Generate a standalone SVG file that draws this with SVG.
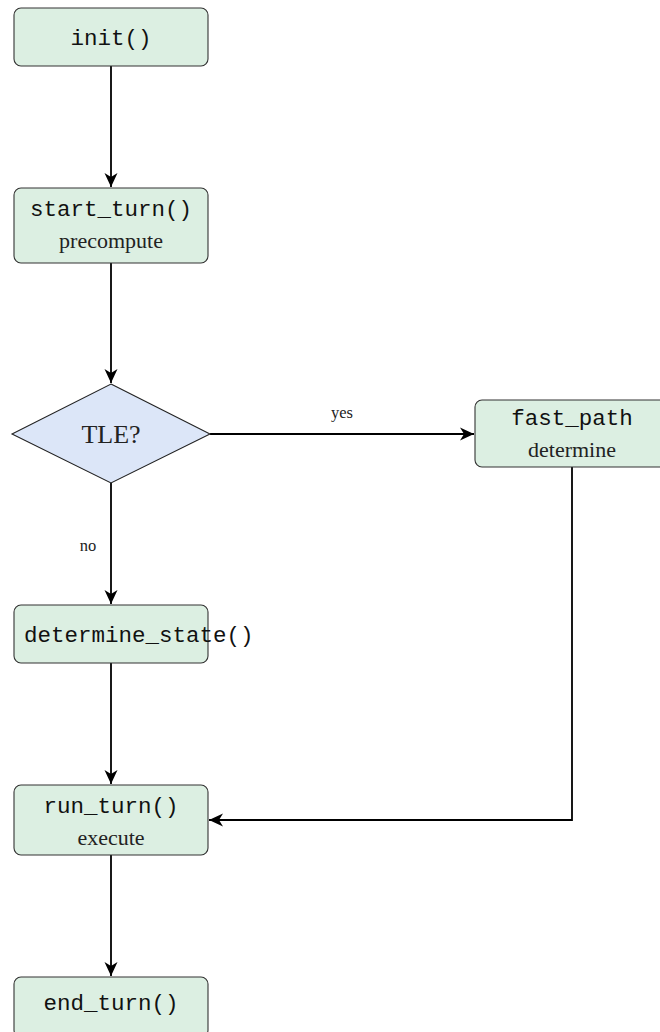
<svg xmlns="http://www.w3.org/2000/svg" width="660" height="1032" viewBox="0 0 660 1032">
<style>
.box{fill:#dcefe2;stroke:#333;stroke-width:1.1}
.dia{fill:#dce6f8;stroke:#222;stroke-width:1.1}
.mono{font-family:"Liberation Mono","DejaVu Sans Mono",monospace;font-size:22.5px;fill:#111;text-anchor:middle}
.ser{font-family:"Liberation Serif","DejaVu Serif",serif;font-size:22px;fill:#222;text-anchor:middle}
.lbl{font-family:"Liberation Serif","DejaVu Serif",serif;font-size:16.5px;fill:#222;text-anchor:middle}
.edge{fill:none;stroke:#000;stroke-width:1.8}
</style>
<defs>
<marker id="ah" markerUnits="userSpaceOnUse" markerWidth="16" markerHeight="14" refX="14" refY="7" orient="auto">
<path d="M0,0.5 L14,7 L0,13.5 L4,7 z" fill="#000"/>
</marker>
</defs>
<g id="connectors">
<line class="edge" x1="111" y1="66" x2="111" y2="187" marker-end="url(#ah)"/>
<line class="edge" x1="111" y1="263" x2="111" y2="383" marker-end="url(#ah)"/>
<line class="edge" x1="210" y1="434" x2="474" y2="434" marker-end="url(#ah)"/>
<text class="lbl" x="342" y="418">yes</text>
<line class="edge" x1="111" y1="483" x2="111" y2="604" marker-end="url(#ah)"/>
<text class="lbl" x="88" y="551">no</text>
<line class="edge" x1="111" y1="663" x2="111" y2="784" marker-end="url(#ah)"/>
<polyline class="edge" points="572,467 572,820 209,820" marker-end="url(#ah)"/>
<line class="edge" x1="111" y1="855" x2="111" y2="976" marker-end="url(#ah)"/>
</g>
<g id="init">
<rect class="box" x="14" y="8" width="194" height="58" rx="7"/>
<text class="mono" x="111" y="45">init()</text>
</g>
<g id="start_turn">
<rect class="box" x="14" y="188" width="194" height="75" rx="7"/>
<text class="mono" x="111" y="216">start_turn()</text>
<text class="ser" x="111" y="248">precompute</text>
</g>
<g id="tle">
<polygon class="dia" points="111,384 210,434 111,483 12,434"/>
<text class="ser" x="111" y="443" style="font-size:26px">TLE?</text>
</g>
<g id="fast_path">
<rect class="box" x="475" y="400" width="194" height="67" rx="7"/>
<text class="mono" x="572" y="425">fast_path</text>
<text class="ser" x="572" y="457">determine</text>
</g>
<g id="determine_state">
<rect class="box" x="14" y="605" width="194" height="58" rx="7"/>
<text class="mono" x="24" y="642" style="text-anchor:start">determine_state()</text>
</g>
<g id="run_turn">
<rect class="box" x="14" y="785" width="194" height="70" rx="7"/>
<text class="mono" x="111" y="813">run_turn()</text>
<text class="ser" x="111" y="845">execute</text>
</g>
<g id="end_turn">
<rect class="box" x="14" y="977" width="194" height="60" rx="7"/>
<text class="mono" x="111" y="1010">end_turn()</text>
</g>
</svg>
